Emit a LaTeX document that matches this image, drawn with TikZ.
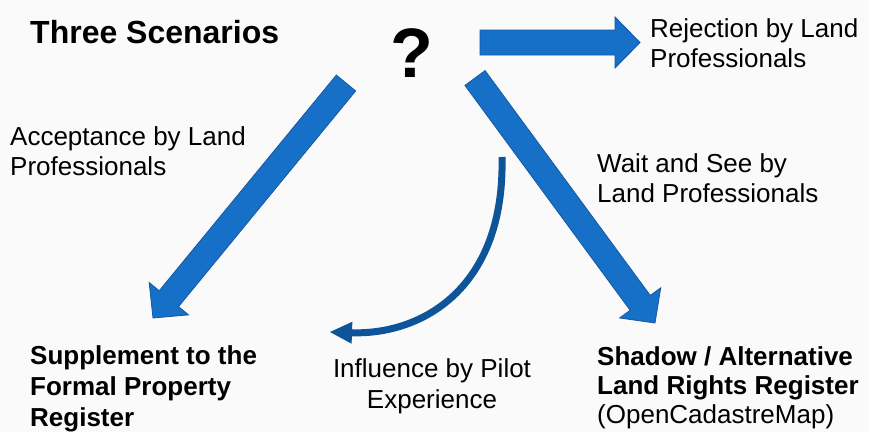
\documentclass[tikz,border=0pt]{standalone}
\usepackage{fontspec}
\setmainfont{Liberation Sans}
\usetikzlibrary{calc,arrows.meta}
\definecolor{arrowblue}{RGB}{22,112,200}
\definecolor{arrowedge}{RGB}{24,88,160}
\definecolor{curveblue}{RGB}{14,84,152}
% block arrow from tail #1 to tip #2
\newcommand{\blockarrow}[2]{%
  \coordinate (neck) at ($(#2)!25pt!(#1)$);
  \draw[barrow] ($(#1)!12.5pt!90:(#2)$) -- ($(neck)!12.5pt!90:(#2)$) -- ($(neck)!25.5pt!90:(#2)$)
    -- (#2) -- ($(neck)!25.5pt!-90:(#2)$) -- ($(neck)!12.5pt!-90:(#2)$) -- ($(#1)!12.5pt!-90:(#2)$) -- cycle;
}
\begin{document}
\begin{tikzpicture}[x=1pt,y=-1pt]
	\tikzstyle{lbl}=[inner sep=0pt, align=left, font=\fontsize{26}{29.5}\selectfont]
	\tikzstyle{lblbold}=[lbl, font=\fontsize{26}{31}\selectfont\bfseries]
	\tikzstyle{barrow}=[fill=arrowblue, draw=arrowedge, line width=0.8pt]
	\tikzstyle{curvedarrow}=[draw=curveblue, line width=7pt, -{Triangle[width=22pt,length=22pt,line width=0pt]}]
	\fill[black!2] (0,0) rectangle (869,432);
	\useasboundingbox (0,0) rectangle (869,432);

	\node[lbl, anchor=base west, font=\fontsize{32}{36}\selectfont\bfseries] (title) at (30,43) {Three Scenarios};
	\node[lbl, anchor=base, font=\fontsize{70}{80}\selectfont\bfseries] (qmark) at (412,77) {?};

	% anchors sit on the last line
	\node[lbl, anchor=base west] (reject) at (650,67) {Rejection by Land\\Professionals};
	\node[lbl, anchor=base west] (accept) at (10,175) {Acceptance by Land\\Professionals};
	\node[lbl, anchor=base west] (wait) at (597,202) {Wait and See by\\Land Professionals};
	\node[lbl, anchor=base, align=center, font=\fontsize{26}{31}\selectfont] (pilot) at (432,408) {Influence by Pilot\\Experience};
	\node[lblbold, anchor=base west] (supp) at (30,426) {Supplement to the\\Formal Property\\Register};
	\node[lbl, anchor=base west, font=\fontsize{26}{29}\selectfont] (shadow) at (597,423) {\textbf{Shadow / Alternative}\\\textbf{Land Rights Register}\\(OpenCadastreMap)};

	% the three scenarios
	\coordinate (rtail) at (480,42.5);
	\coordinate (rtip) at (640,42.5);
	\coordinate (ltail) at (346,83);
	\coordinate (ltip) at (153,318);
	\coordinate (dtail) at (475,78);
	\coordinate (dtip) at (655,323);
	\blockarrow{rtail}{rtip}
	\blockarrow{ltail}{ltip}
	\blockarrow{dtail}{dtip}

	% pilot influence
	\coordinate (btail) at (502,157);
	\coordinate (btip) at (330,332);
	\draw[curvedarrow] (btail) .. controls (505,290) and (420,335) .. (btip);
\end{tikzpicture}
\end{document}
